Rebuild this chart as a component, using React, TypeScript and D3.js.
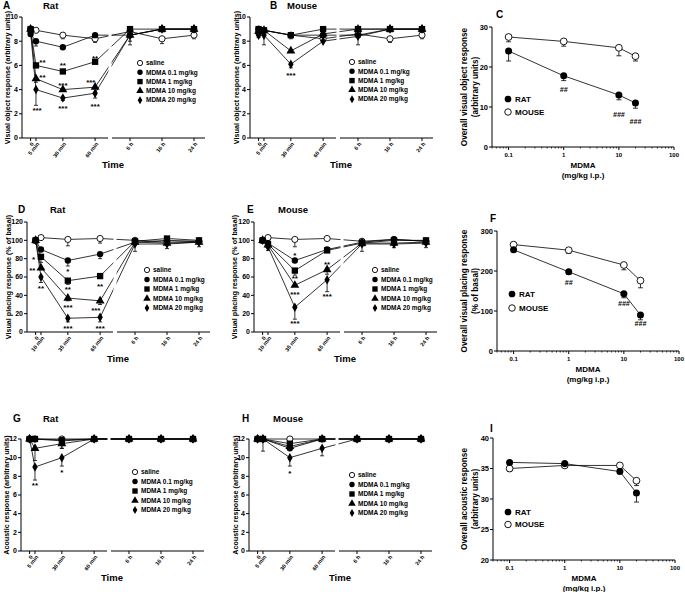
import React from "react";
import * as d3 from "d3";

// time points (left segment in minutes, right segment categorical)
const leftTimes = [0, 5, 30, 60];
const rightTimes = ["6 h", "16 h", "24 h"];
const objTickLabels = ["0", "5 min", "30 min", "60 min", "6 h", "16 h", "24 h"];
const placeTickLabels = ["0", "10 min", "35 min", "65 min", "6 h", "16 h", "24 h"];
const groups = ["saline", "MDMA 0.1 mg/kg", "MDMA 1 mg/kg", "MDMA 10 mg/kg", "MDMA 20 mg/kg"];
const shapes = ["open", "circle", "square", "triangle", "diamond"];

// A - rat, visual object
const ratObject = [
  [9, 8.9, 8.5, 8.2, 8.8, 8.2, 8.5],
  [8.6, 8.0, 7.5, 8.5, 8.5, 9, 9],
  [9, 6.0, 5.5, 6.3, 9, 9, 9],
  [9, 4.9, 4.0, 4.2, 8.5, 9, 9],
  [8.7, 4.0, 3.3, 3.7, 8.5, 9, 9],
];
const ratObjectErr = [
  [0, 0, 0.3, 0.3, 0.3, 0.4, 0.3],
  [0, 0.4, 0, 0, 0.8, 0, 0],
  [0, 0, 0, 0, 0, 0, 0],
  [0, 0.3, 0, 0, 0, 0, 0],
  [0, 1.3, 0.2, 0.4, 0.5, 0, 0],
];
const ratObjectStars = [
  { t: 11, v: 6.4, s: "**" }, { t: 11, v: 5.1, s: "**" }, { t: 6, v: 2.4, s: "***" },
  { t: 30, v: 6.1, s: "**" }, { t: 30, v: 4.5, s: "***" }, { t: 30, v: 2.6, s: "***" },
  { t: 60, v: 6.7, s: "**" }, { t: 56, v: 4.7, s: "***" }, { t: 60, v: 2.7, s: "***" },
];

// B - mouse, visual object
const mouseObject = [
  [9, 8.9, 8.5, 8.2, 8.6, 8.2, 8.5],
  [8.7, 8.9, 8.5, 8.5, 8.5, 9, 9],
  [9, 8.9, 8.5, 9.0, 9, 9, 9],
  [8.8, 8.9, 7.2, 8.6, 9, 9, 9],
  [8.5, 8.5, 6.1, 8.0, 8.4, 9, 9],
];
const mouseObjectErr = [
  [0, 0, 0.3, 0.2, 0, 0.3, 0.3],
  [0.4, 0, 0, 0, 0.8, 0, 0],
  [0, 0, 0, 0, 0, 0, 0],
  [0, 0, 0, 0, 0, 0, 0],
  [0, 0.8, 0.3, 0, 0, 0, 0],
];
const mouseObjectStars = [{ t: 30, v: 5.3, s: "***" }];

// D - rat, visual placing
const ratPlacing = [
  [100, 103, 101, 102, 100, 98, 99],
  [100, 90, 78, 85, 98, 100, 99],
  [100, 82, 56, 61, 99, 102, 100],
  [100, 70, 37, 34, 98, 97, 98],
  [100, 60, 15, 16, 96, 96, 98],
];
const ratPlacingErr = [
  [0, 0, 7, 5, 0, 0, 0],
  [0, 0, 6, 5, 10, 0, 0],
  [0, 6, 4, 0, 0, 0, 3],
  [0, 0, 3, 4, 0, 6, 0],
  [0, 6, 4, 5, 0, 0, 5],
];
const ratPlacingStars = [
  { t: -2, v: 81, s: "*" }, { t: -3, v: 69, s: "**" }, { t: 5, v: 49, s: "**" },
  { t: 30, v: 68, s: "*" }, { t: 30, v: 48, s: "**" }, { t: 30, v: 28, s: "***" }, { t: 30, v: 5, s: "***" },
  { t: 60, v: 51, s: "**" }, { t: 56, v: 25, s: "***" }, { t: 60, v: 5, s: "***" },
];

// E - mouse, visual placing
const mousePlacing = [
  [100, 103, 101, 102, 99, 101, 99],
  [100, 97, 78, 90, 98, 101, 99],
  [100, 96, 67, 89, 97, 100, 100],
  [100, 95, 51, 68, 97, 97, 98],
  [100, 93, 27, 57, 96, 96, 97],
];
const mousePlacingErr = [
  [0, 0, 8, 0, 0, 0, 0],
  [0, 0, 0, 0, 0, 0, 0],
  [0, 0, 5, 0, 0, 0, 0],
  [0, 3, 0, 5, 0, 5, 0],
  [0, 4, 13, 13, 8, 0, 5],
];
const mousePlacingStars = [
  { t: 30, v: 85, s: "*" }, { t: 30, v: 60, s: "**" }, { t: 30, v: 43, s: "***" }, { t: 30, v: 11, s: "***" },
  { t: 60, v: 75, s: "**" }, { t: 60, v: 40, s: "***" },
];

// G - rat, acoustic
const ratAcoustic = [
  [12, 12, 12, 12, 12, 12, 12],
  [12, 12, 11.9, 12, 12, 12, 12],
  [12, 12, 11.8, 12, 12, 12, 12],
  [12, 11, 11.5, 12, 12, 12, 12],
  [12, 9, 10, 12, 12, 12, 12],
];
const ratAcousticErr = [
  [0, 0, 0, 0, 0, 0, 0],
  [0, 0, 0, 0, 0, 0, 0],
  [0, 0, 0.8, 0, 0, 0, 0],
  [0, 1.3, 0.5, 0, 0, 0, 0],
  [0, 1.4, 0.9, 0, 0, 0, 0],
];
const ratAcousticStars = [{ t: 5, v: 7.2, s: "**" }, { t: 30, v: 8.6, s: "*" }];

// H - mouse, acoustic
const mouseAcoustic = [
  [12, 12, 12, 12, 12, 12, 12],
  [12, 12, 11.0, 12, 12, 12, 12],
  [12, 12, 11.5, 12, 12, 12, 12],
  [12, 12, 11.2, 12, 12, 12, 12],
  [12, 12, 10, 11, 12, 12, 12],
];
const mouseAcousticErr = [
  [0, 0, 0, 0, 0, 0, 0],
  [0, 0, 0, 0, 0, 0, 0],
  [0, 0, 0, 0, 0, 0, 0],
  [0, 0, 0, 0, 0, 0, 0],
  [0, 1.3, 0.9, 0.8, 0, 0, 0],
];
const mouseAcousticStars = [{ t: 30, v: 8.5, s: "*" }];

// C, F, I - overall responses vs dose
const doses = [0.1, 1, 10, 20];
const doseTicks = [0.1, 1, 10, 100];
const ratObjectAll = [24, 17.8, 13, 11];
const ratObjectAllErr = [2.5, 1.2, 1.2, 1.3];
const mouseObjectAll = [27.5, 26.4, 24.8, 22.7];
const mouseObjectAllErr = [1.2, 1.2, 2, 1.2];
const objectHashes = [{ d: 1, v: 14.4, s: "##" }, { d: 10, v: 8.2, s: "###" }, { d: 20, v: 6.4, s: "###" }];

const ratPlacingAll = [253, 198, 143, 90];
const ratPlacingAllErr = [0, 6, 10, 12];
const mousePlacingAll = [266, 252, 215, 176];
const mousePlacingAllErr = [0, 8, 12, 18];
const placingHashes = [{ d: 1, v: 172, s: "##" }, { d: 10, v: 118, s: "###" }, { d: 20, v: 68, s: "###" }];

const ratAcousticAll = [36, 35.8, 34.5, 31];
const ratAcousticAllErr = [0, 0, 0, 1.5];
const mouseAcousticAll = [35, 35.5, 35.5, 33];
const mouseAcousticAllErr = [0.5, 0, 0, 0.8];

const FONT = "'Liberation Sans', Arial, Helvetica, sans-serif";

const Marker = ({ shape, x, y, s = 1 }) => {
  if (shape === "open")
    return <circle cx={x} cy={y} r={3.1 * s} fill="white" stroke="black" strokeWidth={0.9} />;
  const sym = { circle: d3.symbolCircle, square: d3.symbolSquare, triangle: d3.symbolTriangle, diamond: d3.symbolDiamond }[shape];
  const size = { circle: 32, square: 40, triangle: 34, diamond: 26 }[shape] * s * s;
  return <path d={d3.symbol(sym, size)()} transform={`translate(${x},${y})`} fill="black" />;
};

const TimePanel = ({ cfg, values, errors, stars, tickLabels, yLabel }) => {
  const { x0, yTop, yBot, yMax, yStep, letter, lx, ly, title, tx, ylx, leg } = cfg;
  const y = d3.scaleLinear().domain([0, yMax]).range([yBot, yTop]);
  const left = d3.scaleLinear().domain([-8, 72]).range([x0, x0 + 86]);
  const right = d3.scalePoint().domain(rightTimes).range([x0 + 108, x0 + 172]);
  const xAt = (i) => (i < 4 ? left(leftTimes[i]) : right(rightTimes[i - 4]));
  const line = d3.line().x((_, i) => xAt(i)).y((v) => y(v));
  const yTicks = d3.range(0, yMax + 0.001, yStep);
  return (
    <g>
      <text x={lx} y={ly} fontSize={10} fontWeight="bold">{letter}</text>
      <text x={tx} y={ly} fontSize={9.5} fontWeight="bold">{title}</text>
      {values.map((vals, k) => (
        <path key={k} d={line(vals)} fill="none" stroke="black" strokeWidth={0.8} />
      ))}
      <rect x={x0 + 86.5} y={yTop - 6} width={3} height={yBot - yTop + 5} fill="white" />
      {values.map((vals, k) =>
        vals.map((v, i) =>
          errors[k][i] > 0 ? (
            <g key={`e${k}-${i}`} stroke="black" strokeWidth={0.8}>
              <line x1={xAt(i)} x2={xAt(i)} y1={y(v)} y2={y(v - errors[k][i])} />
              <line x1={xAt(i) - 2} x2={xAt(i) + 2} y1={y(v - errors[k][i])} y2={y(v - errors[k][i])} />
            </g>
          ) : null
        )
      )}
      {values.map((vals, k) =>
        vals.map((v, i) => <Marker key={`m${k}-${i}`} shape={shapes[k]} x={xAt(i)} y={y(v)} />)
      )}
      {stars.map((st, i) => (
        <text key={`s${i}`} x={left(st.t)} y={y(st.v)} dy="0.5em" fontSize={8} fontWeight="bold" textAnchor="middle">{st.s}</text>
      ))}
      {/* y axis */}
      <line x1={x0} x2={x0} y1={yTop} y2={yBot} stroke="black" strokeWidth={1} />
      {yTicks.map((t) => (
        <g key={`yt${t}`}>
          <line x1={x0 - 3} x2={x0} y1={y(t)} y2={y(t)} stroke="black" strokeWidth={1} />
          <text x={x0 - 4} y={y(t)} dy="0.35em" fontSize={7} fontWeight="bold" textAnchor="end">{t}</text>
        </g>
      ))}
      <text transform={`translate(${ylx},${(yTop + yBot) / 2}) rotate(-90)`} fontSize={7.2} fontWeight="bold" textAnchor="middle">{yLabel}</text>
      {/* x axis, two segments */}
      <line x1={x0} x2={x0 + 86} y1={yBot} y2={yBot} stroke="black" strokeWidth={1} />
      <line x1={x0 + 90} x2={x0 + 183} y1={yBot} y2={yBot} stroke="black" strokeWidth={1} />
      {tickLabels.map((lab, i) => (
        <g key={`xt${i}`}>
          <line x1={xAt(i)} x2={xAt(i)} y1={yBot} y2={yBot + 3} stroke="black" strokeWidth={1} />
          <text transform={`translate(${xAt(i) + 2},${yBot + 5}) rotate(-52)`} fontSize={5.5} fontWeight="bold" textAnchor="end" dy="0.35em">{lab}</text>
        </g>
      ))}
      <text x={x0 + 91} y={yBot + 30} fontSize={9.5} fontWeight="bold" textAnchor="middle">Time</text>
      {/* legend */}
      {groups.map((g, k) => (
        <g key={`l${k}`}>
          <Marker shape={shapes[k]} x={leg.x} y={leg.y + k * leg.dy} s={0.85} />
          <text x={leg.x + 6} y={leg.y + k * leg.dy} dy="0.35em" fontSize={6.5} fontWeight="bold">{g}</text>
        </g>
      ))}
    </g>
  );
};

const DosePanel = ({ cfg, rat, ratErr, mouse, mouseErr, hashes, yLabel1, yLabel2 }) => {
  const { x0, yTop, yBot, yDom, yStep, letter, lx, ly, leg } = cfg;
  const x = d3.scaleLog().domain([0.05, 100]).range([x0, x0 + 182]);
  const y = d3.scaleLinear().domain(yDom).range([yBot, yTop]);
  const line = d3.line().x((_, i) => x(doses[i])).y((v) => y(v));
  const yTicks = d3.range(yDom[0], yDom[1] + 0.001, yStep);
  const minor = x.ticks().filter((t) => !doseTicks.includes(t));
  const series = [
    { vals: mouse, err: mouseErr, shape: "open" },
    { vals: rat, err: ratErr, shape: "circle" },
  ];
  return (
    <g>
      <text x={lx} y={ly} fontSize={10} fontWeight="bold">{letter}</text>
      {series.map((s, k) => (
        <g key={k}>
          <path d={line(s.vals)} fill="none" stroke="black" strokeWidth={0.8} />
          {s.vals.map((v, i) =>
            s.err[i] > 0 ? (
              <g key={`e${i}`} stroke="black" strokeWidth={0.8}>
                <line x1={x(doses[i])} x2={x(doses[i])} y1={y(v)} y2={y(v - s.err[i])} />
                <line x1={x(doses[i]) - 2.5} x2={x(doses[i]) + 2.5} y1={y(v - s.err[i])} y2={y(v - s.err[i])} />
              </g>
            ) : null
          )}
          {s.vals.map((v, i) => (
            <Marker key={`m${i}`} shape={s.shape} x={x(doses[i])} y={y(v)} s={1.1} />
          ))}
        </g>
      ))}
      {(hashes || []).map((h, i) => (
        <text key={`h${i}`} x={x(h.d)} y={y(h.v)} dy="0.35em" fontSize={7} fontWeight="bold" fontStyle="italic" textAnchor="middle" fill="#000">{h.s}</text>
      ))}
      <line x1={x0} x2={x0} y1={yTop} y2={yBot} stroke="black" strokeWidth={1} />
      {yTicks.map((t) => (
        <g key={`yt${t}`}>
          <line x1={x0 - 3} x2={x0} y1={y(t)} y2={y(t)} stroke="black" strokeWidth={1} />
          <text x={x0 - 4} y={y(t)} dy="0.35em" fontSize={7.5} fontWeight="bold" textAnchor="end">{t}</text>
        </g>
      ))}
      <line x1={x0} x2={x0 + 182} y1={yBot} y2={yBot} stroke="black" strokeWidth={1} />
      {minor.map((t, i) => (
        <line key={`mn${i}`} x1={x(t)} x2={x(t)} y1={yBot} y2={yBot + 1.5} stroke="black" strokeWidth={0.8} />
      ))}
      {doseTicks.map((t) => (
        <g key={`xt${t}`}>
          <line x1={x(t)} x2={x(t)} y1={yBot} y2={yBot + 3} stroke="black" strokeWidth={1} />
          <text x={x(t)} y={yBot + 10} fontSize={6} fontWeight="bold" textAnchor="middle">{t}</text>
        </g>
      ))}
      <text x={x0 + 91} y={yBot + 21} fontSize={8} fontWeight="bold" textAnchor="middle">MDMA</text>
      <text x={x0 + 91} y={yBot + 31} fontSize={8} fontWeight="bold" textAnchor="middle">(mg/kg i.p.)</text>
      <text transform={`translate(467,${(yTop + yBot) / 2}) rotate(-90)`} fontSize={8.2} fontWeight="bold" textAnchor="middle">{yLabel1}</text>
      <text transform={`translate(477.5,${(yTop + yBot) / 2}) rotate(-90)`} fontSize={8.2} fontWeight="bold" textAnchor="middle">{yLabel2}</text>
      <Marker shape="circle" x={leg.x} y={leg.y} s={1.05} />
      <text x={leg.x + 7} y={leg.y} dy="0.35em" fontSize={8} fontWeight="bold">RAT</text>
      <Marker shape="open" x={leg.x} y={leg.y + leg.dy} s={1.05} />
      <text x={leg.x + 7} y={leg.y + leg.dy} dy="0.35em" fontSize={8} fontWeight="bold">MOUSE</text>
    </g>
  );
};

const layout = {
  A: { x0: 22, yTop: 17, yBot: 138, yMax: 10, yStep: 2, letter: "A", lx: 3, ly: 9, title: "Rat", tx: 43, ylx: 9.5, leg: { x: 140, y: 63, dy: 9.3 } },
  B: { x0: 250, yTop: 17, yBot: 138, yMax: 10, yStep: 2, letter: "B", lx: 270, ly: 9, title: "Mouse", tx: 287, ylx: 238.5, leg: { x: 352, y: 62, dy: 9.3 } },
  D: { x0: 27, yTop: 222, yBot: 332, yMax: 120, yStep: 20, letter: "D", lx: 18, ly: 213, title: "Rat", tx: 50, ylx: 10.5, leg: { x: 147, y: 270, dy: 9.5 } },
  E: { x0: 254, yTop: 222, yBot: 332, yMax: 120, yStep: 20, letter: "E", lx: 247, ly: 213, title: "Mouse", tx: 278, ylx: 237, leg: { x: 375, y: 270, dy: 9.5 } },
  G: { x0: 21, yTop: 439, yBot: 551, yMax: 12, yStep: 2, letter: "G", lx: 13, ly: 422, title: "Rat", tx: 43, ylx: 8.5, leg: { x: 135, y: 472, dy: 9.5 } },
  H: { x0: 249, yTop: 439, yBot: 551, yMax: 12, yStep: 2, letter: "H", lx: 242, ly: 422, title: "Mouse", tx: 273, ylx: 237.5, leg: { x: 352, y: 475, dy: 9.5 } },
  C: { x0: 492, yTop: 27, yBot: 147, yDom: [0, 30], yStep: 10, letter: "C", lx: 496, ly: 18, leg: { x: 508, y: 99, dy: 13 } },
  F: { x0: 497, yTop: 231, yBot: 351, yDom: [0, 300], yStep: 100, letter: "F", lx: 490, ly: 222, leg: { x: 512, y: 294, dy: 14 } },
  I: { x0: 493, yTop: 438, yBot: 560, yDom: [20, 40], yStep: 5, letter: "I", lx: 490, ly: 432, leg: { x: 508, y: 512, dy: 12.5 } },
};

export default function App() {
  return (
    <svg width={685} height={592} style={{ position: "absolute", left: 0, top: 0, background: "white" }} fontFamily={FONT}>
      <rect width={685} height={592} fill="white" />
      <TimePanel cfg={layout.A} values={ratObject} errors={ratObjectErr} stars={ratObjectStars} tickLabels={objTickLabels} yLabel="Visual object response (arbitrary units)" />
      <TimePanel cfg={layout.B} values={mouseObject} errors={mouseObjectErr} stars={mouseObjectStars} tickLabels={objTickLabels} yLabel="Visual object response (arbitrary units)" />
      <DosePanel cfg={layout.C} rat={ratObjectAll} ratErr={ratObjectAllErr} mouse={mouseObjectAll} mouseErr={mouseObjectAllErr} hashes={objectHashes} yLabel1="Overall visual object response" yLabel2="(arbitrary units)" />
      <TimePanel cfg={layout.D} values={ratPlacing} errors={ratPlacingErr} stars={ratPlacingStars} tickLabels={placeTickLabels} yLabel="Visual placing response (% of basal)" />
      <TimePanel cfg={layout.E} values={mousePlacing} errors={mousePlacingErr} stars={mousePlacingStars} tickLabels={placeTickLabels} yLabel="Visual placing response (% of basal)" />
      <DosePanel cfg={layout.F} rat={ratPlacingAll} ratErr={ratPlacingAllErr} mouse={mousePlacingAll} mouseErr={mousePlacingAllErr} hashes={placingHashes} yLabel1="Overall visual placing response" yLabel2="(% of basal)" />
      <TimePanel cfg={layout.G} values={ratAcoustic} errors={ratAcousticErr} stars={ratAcousticStars} tickLabels={objTickLabels} yLabel="Acoustic response (arbitrary units)" />
      <TimePanel cfg={layout.H} values={mouseAcoustic} errors={mouseAcousticErr} stars={mouseAcousticStars} tickLabels={objTickLabels} yLabel="Acoustic response (arbitrary units)" />
      <DosePanel cfg={layout.I} rat={ratAcousticAll} ratErr={ratAcousticAllErr} mouse={mouseAcousticAll} mouseErr={mouseAcousticAllErr} hashes={[]} yLabel1="Overall acoustic response" yLabel2="(arbitrary units)" />
    </svg>
  );
}
